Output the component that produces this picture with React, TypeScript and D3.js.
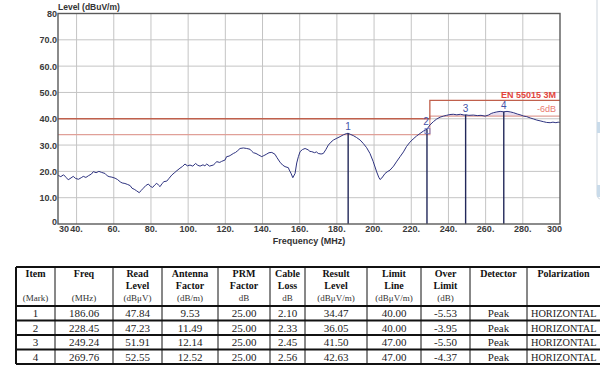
import React from "react";
import * as d3 from "d3";

// ---------- data ----------
const curveFreq = [
  30, 31.5, 33, 34.5, 35.5, 37, 38.2, 39.5, 41, 42.5, 43.6, 45, 46.5, 48, 49, 50.5, 52, 53.5, 55.3, 56.5,
  57.5, 59, 60.7, 62, 63.5, 64.5, 66, 67.5, 68.8, 69.8, 71, 72.3, 73.7, 74.8, 75.9, 77.2, 78.6, 79.7, 80.9, 82,
  83.1, 84, 84.9, 86, 87, 88.5, 89.8, 91.2, 92.5, 94, 95.6, 97, 98.3, 99.6, 101, 102.5, 104, 105.2, 106.4, 108,
  109, 110, 111.5, 113.5, 114.5, 115.3, 117, 118, 119.8, 120.7, 122, 123, 124.3, 125.5, 126.7, 127.9, 129.7, 131.5, 133.3, 134.3,
  135.1, 136.5, 138, 139.6, 140.4, 141.3, 142.3, 143.5, 145, 146.7, 147.8, 149.4, 150.8, 152.1, 153.9, 154.4, 155.3, 156.3, 157.5, 158.4,
  159.3, 160.2, 161.5, 162.9, 164.5, 165.5, 166.5, 168, 169, 170, 171.5, 172.7, 174, 175.4, 176.8, 178.1, 180, 181.7, 183.5, 185.3,
  186.06, 187.5, 188.8, 190.5, 192.5, 194.2, 196, 197.8, 199.5, 201.4, 202.5, 203.2, 204.2, 205.9, 207, 208.6, 210.5, 212, 214, 215.8,
  217.5, 219.3, 221, 222.8, 224.7, 226.5, 228.45, 230, 231.9, 233.5, 235.5, 237.3, 239, 240.8, 242.6, 244.5, 246.5, 248.4, 249.24, 251,
  253.4, 255.5, 257.5, 259.7, 261.5, 263, 264.2, 266, 267.8, 269.76, 271.5, 273.3, 275, 277, 279, 280.5, 282.1, 284, 285.8, 287.5,
  289.3, 291, 292.8, 294.7, 296.2, 297.8, 299, 300,
];
const curveLevel = [
  18.5, 18.0, 18.7, 17.6, 16.8, 17.5, 18.1, 17.3, 17.0, 17.6, 18.1, 17.7, 18.4, 19.0, 19.9, 19.5, 20.0, 19.6, 19.2, 18.3,
  18.0, 17.8, 17.4, 16.9, 16.0, 15.6, 15.4, 15.0, 14.6, 13.6, 13.2, 12.6, 11.9, 12.8, 13.6, 14.6, 15.2, 14.3, 13.9, 14.8,
  15.5, 14.8, 14.2, 15.4, 16.1, 16.3, 17.4, 18.6, 19.4, 20.3, 21.2, 21.9, 22.8, 22.1, 22.4, 22.0, 23.0, 22.3, 22.0, 22.5,
  22.1, 22.8, 22.0, 22.4, 23.0, 23.7, 23.4, 23.8, 24.3, 25.6, 25.8, 26.2, 26.8, 27.2, 27.9, 28.7, 28.9, 28.7, 28.4, 27.6,
  27.1, 26.8, 26.2, 25.6, 25.9, 26.2, 26.6, 27.1, 27.2, 26.5, 25.2, 23.5, 22.4, 21.8, 21.4, 20.5, 19.3, 17.6, 19.2, 23.2,
  25.6, 27.5, 28.3, 28.7, 28.2, 27.6, 27.5, 27.1, 27.4, 26.8, 26.6, 26.8, 28.2, 30.0, 31.1, 31.9, 32.6, 33.2, 33.9, 34.4,
  34.47, 34.0, 33.6, 32.9, 31.9, 30.6, 29.0, 26.8, 23.8, 19.8, 17.8, 16.9, 17.5, 19.2, 19.8, 20.5, 22.0, 23.6, 25.6, 27.4,
  29.5, 31.1, 32.3, 33.4, 34.4, 35.3, 36.05, 37.6, 38.9, 39.8, 40.6, 41.0, 41.3, 41.6, 41.7, 41.5, 41.7, 41.4, 41.5, 41.3,
  41.4, 41.2, 41.3, 41.0, 41.4, 42.0, 42.3, 42.6, 42.8, 42.63, 42.8, 42.6, 42.3, 41.8, 41.4, 41.0, 40.8, 40.3, 39.9, 39.5,
  39.2, 38.9, 38.6, 38.5, 38.7, 38.5, 38.7, 38.6,
];

const limitFreq = [30, 230, 230, 300];
const limitLevel = [40, 40, 47, 47];
const limit6Level = [34, 34, 41, 41];

const xTicks = [30, 40, 60, 80, 100, 120, 140, 160, 180, 200, 220, 240, 260, 280, 300];
const xTickLabels = ["30", "40.", "60.", "80.", "100.", "120.", "140.", "160.", "180.", "200.", "220.", "240.", "260.", "280.", "300"];
const yTicks = [0, 10, 20, 30, 40, 50, 60, 70, 80];
const yTickLabels = ["0", "10.0", "20.0", "30.0", "40.0", "50.0", "60.0", "70.0", "80"];

const markItems = ["1", "2", "3", "4"];
const markFreq = [186.06, 228.45, 249.24, 269.76];
const readLevel = ["47.84", "47.23", "51.91", "52.55"];
const antennaFactor = ["9.53", "11.49", "12.14", "12.52"];
const prmFactor = ["25.00", "25.00", "25.00", "25.00"];
const cableLoss = ["2.10", "2.33", "2.45", "2.56"];
const resultLevel = [34.47, 36.05, 41.5, 42.63];
const limitLine = ["40.00", "40.00", "47.00", "47.00"];
const overLimit = ["-5.53", "-3.95", "-5.50", "-4.37"];
const detector = ["Peak", "Peak", "Peak", "Peak"];
const polarization = ["HORIZONTAL", "HORIZONTAL", "HORIZONTAL", "HORIZONTAL"];

const headLine1 = ["Item", "Freq", "Read", "Antenna", "PRM", "Cable", "Result", "Limit", "Over", "Detector", "Polarization"];
const headLine2 = ["", "", "Level", "Factor", "Factor", "Loss", "Level", "Line", "Limit", "", ""];
const headUnits = ["(Mark)", "(MHz)", "(dBμV)", "(dB/m)", "dB", "dB", "(dBμV/m)", "(dBμV/m)", "(dB)", "", ""];

// ---------- layout ----------
const W = 600;
const H = 367;
const plot = { left: 58, right: 560, top: 13.5, bottom: 224 };
const colEdges = [16, 55, 113, 162, 218, 270, 305, 367, 421, 470, 527, 600];
const rowEdges = [267, 306, 320.5, 335, 349.5, 364];

const sans = "'Liberation Sans', Arial, sans-serif";
const serif = "'Liberation Serif', 'Times New Roman', serif";

export default function App() {
  const x = d3.scaleLinear().domain([30, 300]).range([plot.left, plot.right]);
  const y = d3.scaleLinear().domain([0, 80]).range([plot.bottom, plot.top]);

  const pts = curveFreq.map((f, i) => [f, curveLevel[i]] as [number, number]);
  const line = d3.line<[number, number]>().x((d) => x(d[0])).y((d) => y(d[1]));
  const curvePath = line(pts) || "";

  const bandPts = pts.filter((d) => d[0] >= 232);
  const area = d3
    .area<[number, number]>()
    .x((d) => x(d[0]))
    .y0(() => y(41))
    .y1((d) => y(Math.max(41, d[1])));
  const bandPath = area(bandPts) || "";

  const limPts = limitFreq.map((f, i) => [f, limitLevel[i]] as [number, number]);
  const lim6Pts = limitFreq.map((f, i) => [f, limit6Level[i]] as [number, number]);

  const tableCols = [
    markItems,
    markFreq.map((v) => v.toFixed(2)),
    readLevel,
    antennaFactor,
    prmFactor,
    cableLoss,
    resultLevel.map((v) => v.toFixed(2)),
    limitLine,
    overLimit,
    detector,
    polarization,
  ];

  const cx = (i: number) => (colEdges[i] + colEdges[i + 1]) / 2;
  const lastCol = tableCols.length - 1;

  return (
    <svg width={W} height={H} style={{ position: "absolute", left: 0, top: 0, background: "#fff" }}>
      <rect x={0} y={0} width={W} height={H} fill="#fff" />

      {/* faint UI panel at right edge */}
      <path d="M597,0 L597,194 Q597,199 601,199" fill="none" stroke="#cdd5dd" strokeWidth={1} />
      <rect x={597} y={122} width={4} height={11} fill="#c9dbea" />
      <rect x={597} y={185} width={4} height={12} fill="#c9dbea" />

      {/* grid */}
      {xTicks.slice(1, -1).map((t) => (
        <line key={"gx" + t} x1={x(t)} x2={x(t)} y1={plot.top} y2={plot.bottom} stroke="#c4c4c4" strokeWidth={1} />
      ))}
      {yTicks.slice(1, -1).map((t) => (
        <line key={"gy" + t} x1={plot.left} x2={plot.right} y1={y(t)} y2={y(t)} stroke="#c4c4c4" strokeWidth={1} />
      ))}

      {/* band between curve and -6dB line */}
      <path d={bandPath} fill="#e2d6ec" opacity={0.8} />

      {/* limit lines */}
      <path d={line(lim6Pts) || ""} fill="none" stroke="#e0a098" strokeWidth={1.3} />
      <path d={line(limPts) || ""} fill="none" stroke="#c0604c" strokeWidth={1.3} />

      {/* curve */}
      <path d={curvePath} fill="none" stroke="#2e3380" strokeWidth={1} />

      {/* markers */}
      {markFreq.map((f, i) => (
        <g key={"m" + i}>
          <line x1={x(f)} x2={x(f)} y1={y(resultLevel[i])} y2={plot.bottom} stroke="#22285a" strokeWidth={1.4} />
          <text
            x={x(f) - (i === 1 ? 1 : 0)}
            y={y(resultLevel[i]) - (i === 1 ? 4 : 3)}
            textAnchor="middle"
            fontFamily={sans}
            fontSize={10}
            fill="#4452a8"
          >
            {markItems[i]}
          </text>
        </g>
      ))}
      <rect x={x(markFreq[1]) - 2} y={y(resultLevel[1]) - 0.5} width={5} height={5} fill="none" stroke="#6a72c0" strokeWidth={0.8} />

      {/* limit labels */}
      <text x={556} y={98} textAnchor="end" fontFamily={sans} fontSize={9} fontWeight="bold" fill="#e2443c">
        EN 55015  3M
      </text>
      <text x={556} y={112} textAnchor="end" fontFamily={sans} fontSize={9} fill="#ea7a70">
        -6dB
      </text>

      {/* frame */}
      <rect
        x={plot.left}
        y={plot.top}
        width={plot.right - plot.left}
        height={plot.bottom - plot.top}
        fill="none"
        stroke="#5a5a5a"
        strokeWidth={1.4}
      />

      {/* y tick labels */}
      {yTicks.map((t, i) => (
        <text
          key={"yl" + t}
          x={plot.left - 1}
          y={y(t) + (t === 0 ? 1 : 3.5)}
          textAnchor="end"
          fontFamily={sans}
          fontSize={9}
          fontWeight="bold"
          fill="#3a3a3a"
        >
          {yTickLabels[i]}
        </text>
      ))}

      {/* x tick labels */}
      {xTicks.map((t, i) => (
        <text
          key={"xl" + t}
          x={t === 30 ? x(t) + 1 : t === 300 ? x(t) + 2 : x(t)}
          y={232}
          textAnchor={t === 30 ? "start" : t === 300 ? "end" : "middle"}
          fontFamily={sans}
          fontSize={9}
          fontWeight="bold"
          fill="#3a3a3a"
        >
          {xTickLabels[i]}
        </text>
      ))}

      {/* axis titles */}
      <text x={plot.left} y={10} fontFamily={sans} fontSize={8.5} fontWeight="bold" fill="#333">
        Level (dBuV/m)
      </text>
      <text x={(plot.left + plot.right) / 2} y={244} textAnchor="middle" fontFamily={sans} fontSize={9} fontWeight="bold" fill="#333">
        Frequency (MHz)
      </text>

      {/* table */}
      <g>
        {headLine1.map((h, i) => (
          <g key={"h" + i}>
            <text x={cx(i)} y={277} textAnchor="middle" fontFamily={serif} fontSize={10} fontWeight="bold" fill="#111">
              {h}
            </text>
            {headLine2[i] && (
              <text x={cx(i)} y={289} textAnchor="middle" fontFamily={serif} fontSize={10} fontWeight="bold" fill="#111">
                {headLine2[i]}
              </text>
            )}
            {headUnits[i] && (
              <text x={cx(i)} y={301} textAnchor="middle" fontFamily={serif} fontSize={9} fill="#333">
                {headUnits[i]}
              </text>
            )}
          </g>
        ))}
        {tableCols.map((col, ci) =>
          col.map((v, ri) => (
            <text
              key={"c" + ci + "_" + ri}
              x={ci === lastCol ? colEdges[ci] + 4 : cx(ci)}
              y={(rowEdges[ri + 1] + rowEdges[ri + 2]) / 2 + 4}
              textAnchor={ci === lastCol ? "start" : "middle"}
              fontFamily={serif}
              fontSize={ci === lastCol ? 10.3 : 11}
              fill="#222"
            >
              {v}
            </text>
          ))
        )}
        {rowEdges.map((ry, i) => (
          <line key={"hr" + i} x1={colEdges[0]} x2={W} y1={ry} y2={ry} stroke="#111" strokeWidth={2} />
        ))}
        {colEdges.slice(0, -1).map((cxe, i) => (
          <line
            key={"vr" + i}
            x1={cxe}
            x2={cxe}
            y1={rowEdges[0]}
            y2={rowEdges[rowEdges.length - 1]}
            stroke="#111"
            strokeWidth={i === 0 ? 2 : 1}
          />
        ))}
      </g>
    </svg>
  );
}
